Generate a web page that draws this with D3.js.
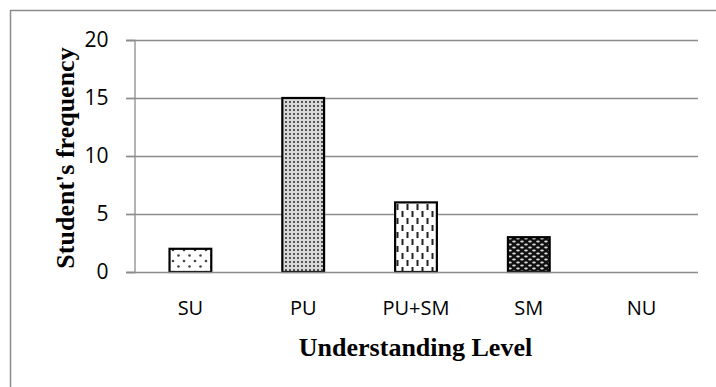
<!DOCTYPE html>
<html>
<head>
<meta charset="utf-8">
<script src="https://cdn.jsdelivr.net/npm/d3@7"></script>
<style>
  body { margin: 0; background: #fff; }
  svg { display: block; }
</style>
</head>
<body>
<svg id="chart" width="716" height="387"></svg>
<script>
// chart values
var categories = ["SU", "PU", "PU+SM", "SM", "NU"];
var frequencies = [2, 15, 6, 3, 0];
var yTicks = [0, 5, 10, 15, 20];
var patternIds = ["pSU", "pPU", "pPUSM", "pSM", "pNU"];

var svg = d3.select("#chart");
var margin = {left: 134, right: 18, top: 40, bottom: 115};
var W = 716, H = 387;

// outer frame (only left and top edges are visible)
svg.append("path")
	.attr("d", "M10.5," + H + "V10.5H" + W)
	.attr("fill", "none")
	.attr("stroke", "#8c8c8c")
	.attr("stroke-width", 1.5);

var defs = svg.append("defs");

// sparse dots
var p1 = defs.append("pattern").attr("id", "pSU").attr("patternUnits", "userSpaceOnUse")
	.attr("width", 11).attr("height", 11);
p1.append("rect").attr("width", 11).attr("height", 11).attr("fill", "#fff");
p1.append("circle").attr("cx", 2.5).attr("cy", 2.5).attr("r", 1.3).attr("fill", "#444");
p1.append("circle").attr("cx", 8).attr("cy", 8).attr("r", 1.3).attr("fill", "#444");

// dense dots
var p2 = defs.append("pattern").attr("id", "pPU").attr("patternUnits", "userSpaceOnUse")
	.attr("width", 4).attr("height", 4);
p2.append("rect").attr("width", 4).attr("height", 4).attr("fill", "#d8d8d8");
p2.append("rect").attr("x", 1).attr("y", 1).attr("width", 2).attr("height", 2).attr("fill", "#555");

// vertical dashes
var p3 = defs.append("pattern").attr("id", "pPUSM").attr("patternUnits", "userSpaceOnUse")
	.attr("width", 10).attr("height", 14);
p3.append("rect").attr("width", 10).attr("height", 14).attr("fill", "#fff");
p3.append("rect").attr("x", 1.5).attr("y", 1).attr("width", 2).attr("height", 6).attr("fill", "#222");
p3.append("rect").attr("x", 6.5).attr("y", 8).attr("width", 2).attr("height", 6).attr("fill", "#222");

// black with white ovals
var p4 = defs.append("pattern").attr("id", "pSM").attr("patternUnits", "userSpaceOnUse")
	.attr("width", 8).attr("height", 6);
p4.append("rect").attr("width", 8).attr("height", 6).attr("fill", "#111");
p4.append("ellipse").attr("cx", 2).attr("cy", 1.5).attr("rx", 1.8).attr("ry", 0.9).attr("fill", "#ddd");
p4.append("ellipse").attr("cx", 6).attr("cy", 4.5).attr("rx", 1.8).attr("ry", 0.9).attr("fill", "#ddd");

defs.append("pattern").attr("id", "pNU").attr("patternUnits", "userSpaceOnUse")
	.attr("width", 4).attr("height", 4)
	.append("rect").attr("width", 4).attr("height", 4).attr("fill", "#fff");

var x = d3.scaleBand().domain(categories)
	.range([margin.left, W - margin.right])
	.paddingInner(0.63).paddingOuter(0.315);
var xc = d3.scaleBand().domain(categories).range([margin.left, W - margin.right]);
var y = d3.scaleLinear().domain([0, 20]).range([H - margin.bottom, margin.top]);

// gridlines
svg.append("g")
	.selectAll("line").data(yTicks.filter(function(d){ return d > 0; }))
	.enter().append("line")
	.attr("x1", margin.left - 8).attr("x2", W - margin.right)
	.attr("y1", function(d){ return Math.round(y(d)) + 0.5; })
	.attr("y2", function(d){ return Math.round(y(d)) + 0.5; })
	.attr("stroke", "#8c8c8c").attr("stroke-width", 1.3);

// y axis
var yAxis = svg.append("g")
	.attr("transform", "translate(" + (margin.left + 0.5) + ",0)")
	.call(d3.axisLeft(y).tickValues(yTicks).tickSize(8).tickPadding(18));
yAxis.select(".domain").attr("stroke", "#8c8c8c").attr("stroke-width", 1.3);
yAxis.selectAll(".tick line").attr("stroke", "#8c8c8c").attr("stroke-width", 1.3);
yAxis.selectAll(".tick text")
	.attr("font-family", "'Open Sans', sans-serif").attr("font-size", 21).attr("fill", "#000");

// bars
svg.append("g").selectAll("rect").data(frequencies)
	.enter().append("rect")
	.attr("x", function(d, i){ return x(categories[i]); })
	.attr("width", x.bandwidth())
	.attr("y", function(d){ return y(d); })
	.attr("height", function(d){ return y(0) - y(d); })
	.attr("fill", function(d, i){ return "url(#" + patternIds[i] + ")"; })
	.attr("stroke", function(d){ return d > 0 ? "#000" : "none"; })
	.attr("stroke-width", 2.2);

// baseline
svg.append("line")
	.attr("x1", margin.left - 8).attr("x2", W - margin.right)
	.attr("y1", Math.round(y(0)) + 0.5).attr("y2", Math.round(y(0)) + 0.5)
	.attr("stroke", "#8c8c8c").attr("stroke-width", 1.3);

// x labels
svg.append("g").selectAll("text").data(categories)
	.enter().append("text")
	.attr("x", function(d){ return xc(d) + xc.bandwidth() / 2; })
	.attr("y", y(0) + 43)
	.attr("text-anchor", "middle")
	.attr("font-family", "'Open Sans', sans-serif").attr("font-size", 20)
	.text(function(d){ return d; });

// axis titles
svg.append("text")
	.attr("x", (margin.left + W - margin.right) / 2 - 0.5)
	.attr("y", 356)
	.attr("text-anchor", "middle")
	.attr("font-family", "'Liberation Serif', 'Times New Roman', serif")
	.attr("font-weight", "bold").attr("font-size", 26)
	.text("Understanding Level");

svg.append("text")
	.attr("transform", "translate(74," + ((margin.top + H - margin.bottom) / 2 + 2) + ") rotate(-90)")
	.attr("text-anchor", "middle")
	.attr("font-family", "'Liberation Serif', 'Times New Roman', serif")
	.attr("font-weight", "bold").attr("font-size", 26)
	.text("Student's frequency");
</script>
</body>
</html>
